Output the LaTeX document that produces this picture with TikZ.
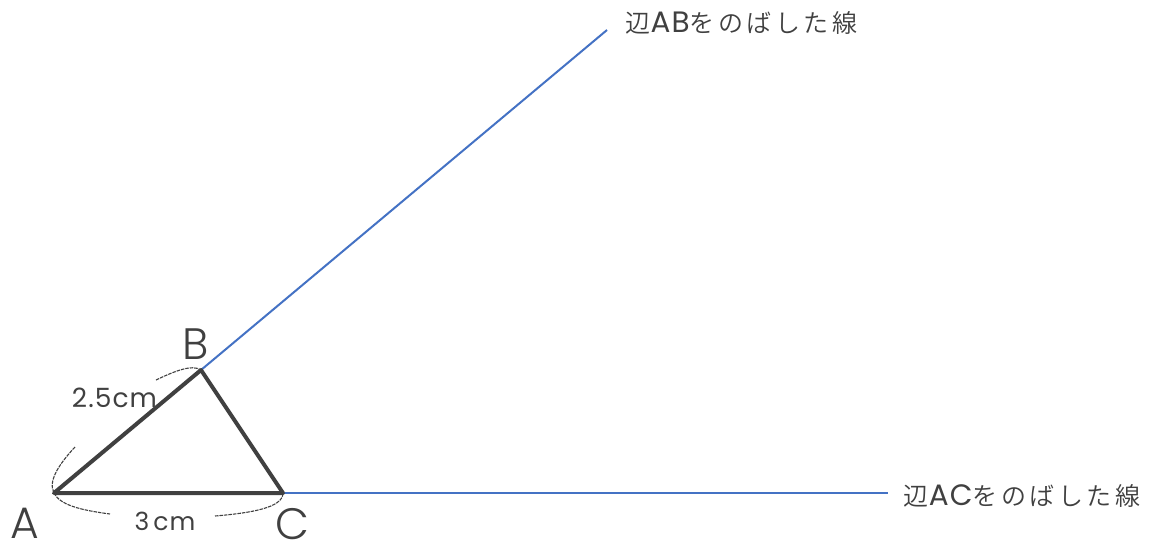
\documentclass[tikz,border=0pt]{standalone}
\usepackage{fontspec}
\setmainfont{Poppins Light}
\newfontfamily\cjk[LetterSpace=14]{Noto Sans CJK JP DemiLight}
\newfontfamily\lat[LetterSpace=4]{Poppins}
\newfontfamily\latl[LetterSpace=4]{Poppins Light}
\newcommand{\latin}[1]{{\lat\fontsize{29.5}{30}\selectfont #1}}
\definecolor{ink}{HTML}{404040}
\definecolor{blueline}{HTML}{4472C4}
\tikzset{
  tri/.style={draw=ink,line width=4pt,line cap=round,line join=round},
  ext/.style={draw=blueline,line width=2pt},
  brace/.style={draw=ink,line width=1.1pt,dash pattern=on 3.5pt off 1pt},
  vert/.style={text=ink,font=\latl\fontsize{44}{44}\selectfont,inner sep=0pt,anchor=center},
  dim/.style={text=ink,font=\lat\fontsize{26.5}{26.5}\selectfont,inner sep=0pt,anchor=center},
  note/.style={text=ink,font=\cjk\fontsize{25}{26}\selectfont,inner sep=0pt,anchor=center}
}
\begin{document}
\begin{tikzpicture}[x=1pt,y=-1pt]
\useasboundingbox (0,0) rectangle (1152,542);
\coordinate (a) at (54,493);
\coordinate (b) at (201,370);
\coordinate (c) at (283,493);
\coordinate (e1) at (607,30);
\coordinate (e2) at (888,493);
\coordinate (d1) at (156,380);
\coordinate (d2) at (75,447);
\coordinate (d3) at (110,514);
\coordinate (d4) at (215,516);
\draw[ext] (b) -- (e1);
\draw[ext] (c) -- (e2);
\draw[tri] (a) -- (b) -- (c) -- cycle;
\draw[brace] (d1) .. controls (175,371) and (192,364) .. (b);
\draw[brace] (d2) .. controls (62,461) and (47,480) .. (a);
\draw[brace] (a) .. controls (60,505) and (80,510) .. (d3);
\draw[brace] (d4) .. controls (250,513) and (283,508) .. (c);
\node[vert] (la) at (25,523) {A};
\node[vert] (lb) at (196,344) {B};
\node[vert] (lc) at (292,524) {C};
\node[dim] (l25) at (114.5,398) {2.5cm};
\node[dim,font=\lat\fontsize{25}{25}\selectfont] (l3) at (165,521) {3\,cm};
\node[note] (n1) at (741.5,23) {辺\latin{AB}をのばした線};
\node[note] (n2) at (1022,496) {辺\latin{AC}をのばした線};
\end{tikzpicture}
\end{document}
